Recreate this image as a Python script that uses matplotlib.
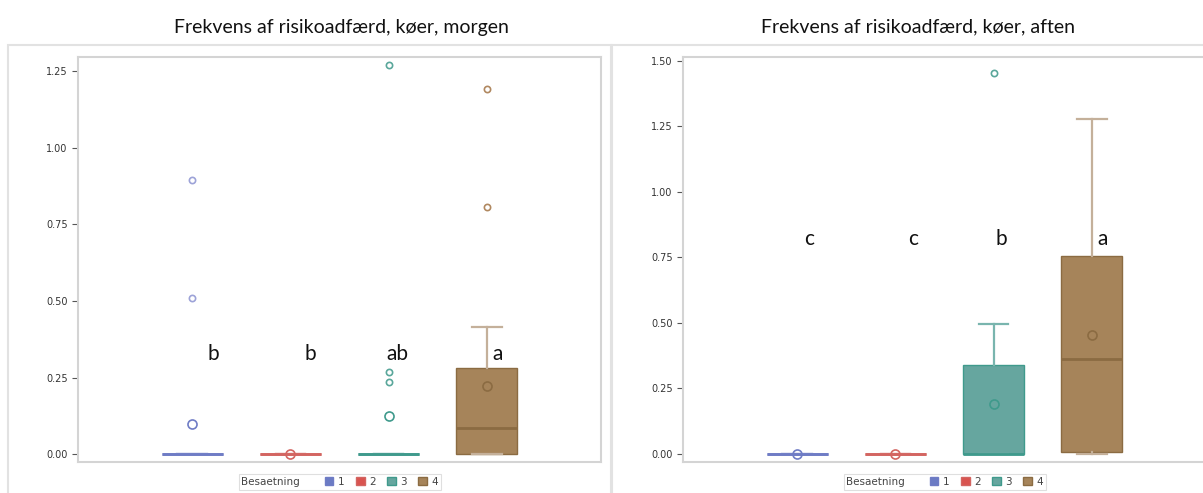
import matplotlib
matplotlib.use("Agg")
import matplotlib.pyplot as plt
from matplotlib.patches import Patch, Rectangle

# Besaetning 1-4
groups = ["1", "2", "3", "4"]

# morgen
morgen_q1 = [0.0, 0.0, 0.0, 0.0]
morgen_med = [0.0, 0.0, 0.0, 0.085]
morgen_q3 = [0.0, 0.0, 0.0, 0.28]
morgen_whislo = [0.0, 0.0, 0.0, 0.0]
morgen_whishi = [0.0, 0.0, 0.0, 0.415]
morgen_mean = [0.098, 0.0, 0.124, 0.222]
morgen_fliers = [[0.895, 0.51], [], [1.271, 0.268, 0.235], [1.193, 0.807]]
morgen_letters = ["b", "b", "ab", "a"]
morgen_letter_y = 0.327

# aften
aften_q1 = [0.0, 0.0, 0.0, 0.008]
aften_med = [0.0, 0.0, 0.0, 0.363]
aften_q3 = [0.0, 0.0, 0.34, 0.756]
aften_whislo = [0.0, 0.0, 0.0, 0.0]
aften_whishi = [0.0, 0.0, 0.496, 1.28]
aften_mean = [0.0, 0.0, 0.19, 0.454]
aften_fliers = [[], [], [1.455], []]
aften_letters = ["c", "c", "b", "a"]
aften_letter_y = 0.82

fill_col = ["#6b7bc4", "#d9534f", "#66a69f", "#a6845a"]
edge_col = ["#6f7cc5", "#d36561", "#3f9a8c", "#8b6b42"]
whisk_col = ["#8f99d2", "#dc8a86", "#79b5ae", "#c4b09a"]
flier_col = ["#9da3d8", "#d98380", "#5aa79b", "#b08860"]

W, H = 1203, 493
fig = plt.figure(figsize=(W / 100, H / 100), dpi=100)

# panel frames
for x0, x1 in [(8, 611), (612, 1215)]:
    fig.patches.append(Rectangle((x0 / W, -0.05), (x1 - x0) / W, 1.05 - 45 / H,
                                 transform=fig.transFigure, fill=False,
                                 edgecolor="#e2e2e2", linewidth=1.5))


def panel(left, title, title_x, q1, med, q3, lo, hi, mean, fliers,
          letters, letter_y, letter_dx, ylim, yticks):
    ax = fig.add_axes([left / W, 1 - 462 / H, 523 / W, (462 - 57) / H])
    pos = [1, 2, 3, 4]
    for i in range(4):
        st = dict(q1=q1[i], med=med[i], q3=q3[i], whislo=lo[i], whishi=hi[i],
                  mean=mean[i], fliers=fliers[i])
        ax.bxp([st], positions=[pos[i]], widths=0.62, patch_artist=True,
               showmeans=True, showcaps=True,
               boxprops=dict(facecolor=fill_col[i], edgecolor=edge_col[i],
                             linewidth=1.8 if q3[i] == q1[i] else 1.0),
               medianprops=dict(color=edge_col[i], linewidth=2.0),
               whiskerprops=dict(color=whisk_col[i], linewidth=1.6),
               capprops=dict(color=whisk_col[i], linewidth=1.6),
               capwidths=0.3,
               meanprops=dict(marker="o", markersize=6.5, markerfacecolor="none",
                              markeredgecolor=edge_col[i], markeredgewidth=1.2),
               flierprops=dict(marker="o", markersize=4.5, markerfacecolor="none",
                               markeredgecolor=flier_col[i], markeredgewidth=1.2))
        ax.text(pos[i] + letter_dx[i], letter_y, letters[i], ha="center",
                va="center", fontsize=15, family="Lato", color="#111111")
    ax.set_xlim(-0.163, 5.163)
    ax.set_ylim(*ylim)
    ax.set_xticks([])
    ax.set_yticks(yticks)
    ax.set_yticklabels([f"{v:.2f}" for v in yticks])
    ax.tick_params(axis="y", labelsize=7, colors="#555555", length=4, width=0.8,
                   labelcolor="#333333")
    for s in ax.spines.values():
        s.set_color("#d4d4d4")
        s.set_linewidth(1.5)
    fig.text(title_x / W, 1 - 27 / H, title, ha="center", va="center",
             fontsize=14, family="Lato", color="#111111")
    handles = [Patch(facecolor="none", edgecolor="none", label="Besaetning")]
    handles += [Patch(facecolor=fill_col[i], edgecolor=edge_col[i], label=g)
                for i, g in enumerate(groups)]
    leg = fig.legend(handles=handles, loc="center",
                     bbox_to_anchor=((left + 262) / W, 1 - 482 / H),
                     ncol=5, fontsize=7.5, frameon=True, fancybox=False,
                     handlelength=0.8, handleheight=0.8, handletextpad=0.45,
                     columnspacing=1.1, borderpad=0.3)
    leg.get_frame().set_edgecolor("#d8d8d8")
    leg.get_frame().set_linewidth(0.8)
    for t in leg.get_texts():
        t.set_color("#444444")
    leg.get_texts()[0].set_position((-14, 0))
    return ax


panel(78, "Frekvens af risikoadfærd, køer, morgen", 341,
      morgen_q1, morgen_med, morgen_q3, morgen_whislo, morgen_whishi,
      morgen_mean, morgen_fliers, morgen_letters, morgen_letter_y,
      [0.21, 0.20, 0.09, 0.11], (-0.026, 1.297),
      [0.0, 0.25, 0.5, 0.75, 1.0, 1.25])

panel(683, "Frekvens af risikoadfærd, køer, aften", 918,
      aften_q1, aften_med, aften_q3, aften_whislo, aften_whishi,
      aften_mean, aften_fliers, aften_letters, aften_letter_y,
      [0.12, 0.18, 0.08, 0.11], (-0.0305, 1.515),
      [0.0, 0.25, 0.5, 0.75, 1.0, 1.25, 1.5])

fig.savefig("out.png", dpi=100)
